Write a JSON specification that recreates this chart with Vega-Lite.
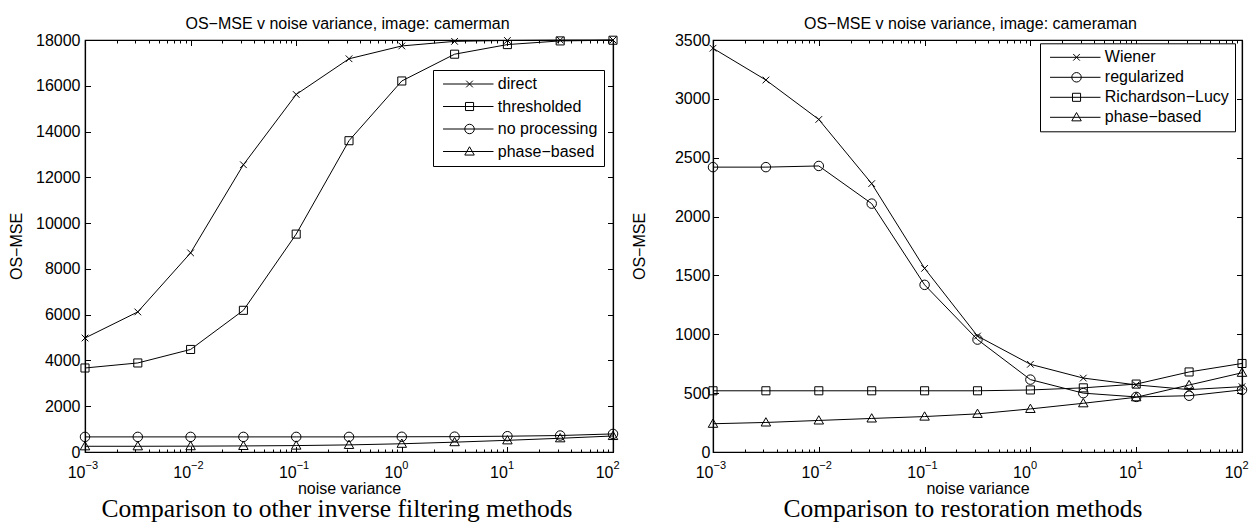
{
  "$schema": "https://vega.github.io/schema/vega-lite/v6.json",
  "padding": {"left": 7, "top": 14, "right": 0, "bottom": 0},
  "background": "white",
  "datasets": {
    "left": [
      {"v": 0.001, "s": "direct", "mse": 4980}, {"v": 0.0031623, "s": "direct", "mse": 6120}, {"v": 0.01, "s": "direct", "mse": 8700}, {"v": 0.031623, "s": "direct", "mse": 12550}, {"v": 0.1, "s": "direct", "mse": 15620}, {"v": 0.31623, "s": "direct", "mse": 17180}, {"v": 1, "s": "direct", "mse": 17740}, {"v": 3.1623, "s": "direct", "mse": 17940}, {"v": 10, "s": "direct", "mse": 17980}, {"v": 31.623, "s": "direct", "mse": 17995}, {"v": 100, "s": "direct", "mse": 18000},
      {"v": 0.001, "s": "thresholded", "mse": 3670}, {"v": 0.0031623, "s": "thresholded", "mse": 3890}, {"v": 0.01, "s": "thresholded", "mse": 4480}, {"v": 0.031623, "s": "thresholded", "mse": 6190}, {"v": 0.1, "s": "thresholded", "mse": 9520}, {"v": 0.31623, "s": "thresholded", "mse": 13600}, {"v": 1, "s": "thresholded", "mse": 16210}, {"v": 3.1623, "s": "thresholded", "mse": 17380}, {"v": 10, "s": "thresholded", "mse": 17800}, {"v": 31.623, "s": "thresholded", "mse": 17960}, {"v": 100, "s": "thresholded", "mse": 17990},
      {"v": 0.001, "s": "no processing", "mse": 660}, {"v": 0.0031623, "s": "no processing", "mse": 660}, {"v": 0.01, "s": "no processing", "mse": 660}, {"v": 0.031623, "s": "no processing", "mse": 660}, {"v": 0.1, "s": "no processing", "mse": 660}, {"v": 0.31623, "s": "no processing", "mse": 660}, {"v": 1, "s": "no processing", "mse": 665}, {"v": 3.1623, "s": "no processing", "mse": 670}, {"v": 10, "s": "no processing", "mse": 690}, {"v": 31.623, "s": "no processing", "mse": 720}, {"v": 100, "s": "no processing", "mse": 790},
      {"v": 0.001, "s": "phase−based", "mse": 250}, {"v": 0.0031623, "s": "phase−based", "mse": 250}, {"v": 0.01, "s": "phase−based", "mse": 255}, {"v": 0.031623, "s": "phase−based", "mse": 265}, {"v": 0.1, "s": "phase−based", "mse": 280}, {"v": 0.31623, "s": "phase−based", "mse": 310}, {"v": 1, "s": "phase−based", "mse": 360}, {"v": 3.1623, "s": "phase−based", "mse": 430}, {"v": 10, "s": "phase−based", "mse": 510}, {"v": 31.623, "s": "phase−based", "mse": 600}, {"v": 100, "s": "phase−based", "mse": 700}
    ],
    "right": [
      {"v": 0.001, "s": "Wiener", "mse": 3430}, {"v": 0.0031623, "s": "Wiener", "mse": 3160}, {"v": 0.01, "s": "Wiener", "mse": 2825}, {"v": 0.031623, "s": "Wiener", "mse": 2280}, {"v": 0.1, "s": "Wiener", "mse": 1560}, {"v": 0.31623, "s": "Wiener", "mse": 985}, {"v": 1, "s": "Wiener", "mse": 745}, {"v": 3.1623, "s": "Wiener", "mse": 628}, {"v": 10, "s": "Wiener", "mse": 570}, {"v": 31.623, "s": "Wiener", "mse": 530}, {"v": 100, "s": "Wiener", "mse": 555},
      {"v": 0.001, "s": "regularized", "mse": 2420}, {"v": 0.0031623, "s": "regularized", "mse": 2420}, {"v": 0.01, "s": "regularized", "mse": 2430}, {"v": 0.031623, "s": "regularized", "mse": 2110}, {"v": 0.1, "s": "regularized", "mse": 1420}, {"v": 0.31623, "s": "regularized", "mse": 955}, {"v": 1, "s": "regularized", "mse": 615}, {"v": 3.1623, "s": "regularized", "mse": 500}, {"v": 10, "s": "regularized", "mse": 468}, {"v": 31.623, "s": "regularized", "mse": 478}, {"v": 100, "s": "regularized", "mse": 528},
      {"v": 0.001, "s": "Richardson−Lucy", "mse": 520}, {"v": 0.0031623, "s": "Richardson−Lucy", "mse": 520}, {"v": 0.01, "s": "Richardson−Lucy", "mse": 520}, {"v": 0.031623, "s": "Richardson−Lucy", "mse": 520}, {"v": 0.1, "s": "Richardson−Lucy", "mse": 520}, {"v": 0.31623, "s": "Richardson−Lucy", "mse": 520}, {"v": 1, "s": "Richardson−Lucy", "mse": 527}, {"v": 3.1623, "s": "Richardson−Lucy", "mse": 545}, {"v": 10, "s": "Richardson−Lucy", "mse": 577}, {"v": 31.623, "s": "Richardson−Lucy", "mse": 680}, {"v": 100, "s": "Richardson−Lucy", "mse": 752},
      {"v": 0.001, "s": "phase−based", "mse": 240}, {"v": 0.0031623, "s": "phase−based", "mse": 251}, {"v": 0.01, "s": "phase−based", "mse": 268}, {"v": 0.031623, "s": "phase−based", "mse": 285}, {"v": 0.1, "s": "phase−based", "mse": 301}, {"v": 0.31623, "s": "phase−based", "mse": 324}, {"v": 1, "s": "phase−based", "mse": 366}, {"v": 3.1623, "s": "phase−based", "mse": 414}, {"v": 10, "s": "phase−based", "mse": 465}, {"v": 31.623, "s": "phase−based", "mse": 569}, {"v": 100, "s": "phase−based", "mse": 673}
    ]
  },
  "config": {
    "view": {"stroke": "black", "strokeWidth": 1.2},
    "axis": {"grid": false, "domainColor": "black", "domainWidth": 1.2, "tickColor": "black", "tickWidth": 1, "labelColor": "black", "titleColor": "black", "labelFont": "Liberation Sans", "titleFont": "Liberation Sans", "labelFontSize": 16, "titleFontSize": 16, "titleFontWeight": "normal", "labelFlush": false, "labelOverlap": false},
    "legend": {"title": null, "orient": "none", "strokeColor": "black", "fillColor": "white", "padding": 6, "cornerRadius": 0, "labelFont": "Liberation Sans", "labelFontSize": 16, "labelColor": "black", "labelOffset": 42.8, "symbolSize": 90, "symbolStrokeColor": "black", "symbolFillColor": "transparent", "symbolStrokeWidth": 1, "symbolOpacity": 1, "labelLimit": 300}
  },
  "spacing": 9,
  "resolve": {"scale": {"shape": "independent"}, "legend": {"shape": "independent"}},
  "hconcat": [
    {
      "width": 528,
      "height": 412,
      "data": {"name": "left"},
      "title": {"text": "Comparison to other inverse filtering methods", "orient": "bottom", "font": "Liberation Serif", "fontSize": 25.5, "fontWeight": "normal", "color": "black", "frame": "group", "anchor": "middle", "dx": -12, "offset": 1, "baseline": "top"},
      "resolve": {"axis": {"x": "independent", "y": "independent"}, "scale": {"shape": "independent"}, "legend": {"shape": "independent"}},
      "layer": [
        {
          "mark": {"type": "line", "color": "black", "strokeWidth": 1},
          "encoding": {
            "x": {"field": "v", "type": "quantitative", "scale": {"type": "log", "domain": [0.001, 100], "nice": false},
              "axis": {"orient": "bottom", "values": [0.001, 0.01, 0.1, 1, 10, 100], "labelExpr": "'10'", "labelAlign": "right", "labelDx": 4, "tickSize": -5.5, "labelPadding": 17.5, "title": "noise variance", "titlePadding": 0}},
            "y": {"field": "mse", "type": "quantitative", "scale": {"domain": [0, 18000], "nice": false},
              "axis": {"orient": "left", "values": [0, 2000, 4000, 6000, 8000, 10000, 12000, 14000, 16000, 18000], "format": "d", "tickSize": -5.5, "labelPadding": 10.5, "title": "OS−MSE", "titlePadding": 11}},
            "detail": {"field": "s", "type": "nominal"}
          }
        },
        {
          "mark": {"type": "point", "filled": false, "color": "black", "strokeWidth": 1, "size": 90, "opacity": 1},
          "encoding": {
            "x": {"field": "v", "type": "quantitative",
              "axis": {"orient": "top", "values": [0.001, 0.01, 0.1, 1, 10, 100], "labels": false, "tickSize": -5.5, "title": "OS−MSE v noise variance, image: camerman", "titlePadding": 8.5, "titleX": 262, "titleAlign": "center"}},
            "y": {"field": "mse", "type": "quantitative",
              "axis": {"orient": "right", "values": [0, 2000, 4000, 6000, 8000, 10000, 12000, 14000, 16000, 18000], "labels": false, "tickSize": -5.5, "title": null}},
            "shape": {"field": "s", "type": "nominal",
              "scale": {"domain": ["direct", "thresholded", "no processing", "phase−based"], "range": ["M-0.7,-0.7L0.7,0.7M-0.7,0.7L0.7,-0.7", "M-0.85,-0.85H0.85V0.85H-0.85Z", "circle", "M0,-1L1,0.75H-1Z"]},
              "legend": null}
          }
        },
        {
          "transform": [{"filter": "false"}],
          "mark": {"type": "point", "filled": false, "color": "black", "strokeWidth": 1, "size": 90, "opacity": 1},
          "encoding": {
            "shape": {"field": "s", "type": "nominal",
              "scale": {"domain": ["direct", "thresholded", "no processing", "phase−based"], "range": ["M-0.84,0H9.8M4.05,-0.7L5.45,0.7M4.05,0.7L5.45,-0.7", "M-0.84,0H9.8M3.9,-0.85H5.6V0.85H3.9Z", "M-0.84,0H9.8M5.75,0A1,1 0 1,1 3.75,0A1,1 0 1,1 5.75,0", "M-0.84,0H9.8M4.75,-1L5.75,0.75H3.75Z"]},
              "legend": {"legendX": 348, "legendY": 30, "rowPadding": 6.5}}
          }
        },
        {
          "mark": {"type": "point", "opacity": 0},
          "encoding": {
            "x": {"field": "v", "type": "quantitative", "axis": {"orient": "bottom", "values": [0.002, 0.003, 0.004, 0.005, 0.006, 0.007, 0.008, 0.009, 0.02, 0.03, 0.04, 0.05, 0.06, 0.07, 0.08, 0.09, 0.2, 0.3, 0.4, 0.5, 0.6, 0.7, 0.8, 0.9, 2, 3, 4, 5, 6, 7, 8, 9, 20, 30, 40, 50, 60, 70, 80, 90], "labels": false, "tickSize": -3, "domain": false, "title": null}},
            "y": {"field": "mse", "type": "quantitative", "axis": null}
          }
        },
        {
          "mark": {"type": "point", "opacity": 0},
          "encoding": {
            "x": {"field": "v", "type": "quantitative", "axis": {"orient": "top", "values": [0.002, 0.003, 0.004, 0.005, 0.006, 0.007, 0.008, 0.009, 0.02, 0.03, 0.04, 0.05, 0.06, 0.07, 0.08, 0.09, 0.2, 0.3, 0.4, 0.5, 0.6, 0.7, 0.8, 0.9, 2, 3, 4, 5, 6, 7, 8, 9, 20, 30, 40, 50, 60, 70, 80, 90], "labels": false, "tickSize": -3, "domain": false, "title": null}},
            "y": {"field": "mse", "type": "quantitative", "axis": null}
          }
        },
        {
          "mark": {"type": "point", "opacity": 0},
          "encoding": {
            "x": {"field": "v", "type": "quantitative", "axis": {"orient": "bottom", "values": [0.001, 0.01, 0.1, 1, 10, 100], "labelExpr": "datum.value < 0.005 ? '−3' : datum.value < 0.05 ? '−2' : datum.value < 0.5 ? '−1' : datum.value < 5 ? '0' : datum.value < 50 ? '1' : '2'", "ticks": false, "tickSize": 0, "domain": false, "labelAlign": "left", "labelDx": 4.5, "labelFontSize": 11, "labelPadding": 7.3, "title": null}},
            "y": {"field": "mse", "type": "quantitative", "axis": null}
          }
        }
      ]
    },
    {
      "width": 529,
      "height": 412,
      "data": {"name": "right"},
      "title": {"text": "Comparison to restoration methods", "orient": "bottom", "font": "Liberation Serif", "fontSize": 25.5, "fontWeight": "normal", "color": "black", "frame": "group", "anchor": "middle", "dx": -14.5, "offset": 1, "baseline": "top"},
      "resolve": {"axis": {"x": "independent", "y": "independent"}, "scale": {"shape": "independent"}, "legend": {"shape": "independent"}},
      "layer": [
        {
          "mark": {"type": "line", "color": "black", "strokeWidth": 1},
          "encoding": {
            "x": {"field": "v", "type": "quantitative", "scale": {"type": "log", "domain": [0.001, 100], "nice": false},
              "axis": {"orient": "bottom", "values": [0.001, 0.01, 0.1, 1, 10, 100], "labelExpr": "'10'", "labelAlign": "right", "labelDx": 4, "tickSize": -5.5, "labelPadding": 17.5, "title": "noise variance", "titlePadding": 0}},
            "y": {"field": "mse", "type": "quantitative", "scale": {"domain": [0, 3500], "nice": false},
              "axis": {"orient": "left", "values": [0, 500, 1000, 1500, 2000, 2500, 3000, 3500], "format": "d", "tickSize": -5.5, "labelPadding": 8.5, "title": "OS−MSE", "titlePadding": 27}},
            "detail": {"field": "s", "type": "nominal"}
          }
        },
        {
          "mark": {"type": "point", "filled": false, "color": "black", "strokeWidth": 1, "size": 90, "opacity": 1},
          "encoding": {
            "x": {"field": "v", "type": "quantitative",
              "axis": {"orient": "top", "values": [0.001, 0.01, 0.1, 1, 10, 100], "labels": false, "tickSize": -5.5, "title": "OS−MSE v noise variance, image: cameraman", "titlePadding": 8.5, "titleX": 257, "titleAlign": "center"}},
            "y": {"field": "mse", "type": "quantitative",
              "axis": {"orient": "right", "values": [0, 500, 1000, 1500, 2000, 2500, 3000, 3500], "labels": false, "tickSize": -5.5, "title": null}},
            "shape": {"field": "s", "type": "nominal",
              "scale": {"domain": ["Wiener", "regularized", "Richardson−Lucy", "phase−based"], "range": ["M-0.7,-0.7L0.7,0.7M-0.7,0.7L0.7,-0.7", "circle", "M-0.85,-0.85H0.85V0.85H-0.85Z", "M0,-1L1,0.75H-1Z"]},
              "legend": null}
          }
        },
        {
          "transform": [{"filter": "false"}],
          "mark": {"type": "point", "filled": false, "color": "black", "strokeWidth": 1, "size": 90, "opacity": 1},
          "encoding": {
            "shape": {"field": "s", "type": "nominal",
              "scale": {"domain": ["Wiener", "regularized", "Richardson−Lucy", "phase−based"], "range": ["M-0.84,0H9.8M4.05,-0.7L5.45,0.7M4.05,0.7L5.45,-0.7", "M-0.84,0H9.8M5.75,0A1,1 0 1,1 3.75,0A1,1 0 1,1 5.75,0", "M-0.84,0H9.8M3.9,-0.85H5.6V0.85H3.9Z", "M-0.84,0H9.8M4.75,-1L5.75,0.75H3.75Z"]},
              "legend": {"legendX": 327, "legendY": 3.3, "rowPadding": 4}}
          }
        },
        {
          "mark": {"type": "point", "opacity": 0},
          "encoding": {
            "x": {"field": "v", "type": "quantitative", "axis": {"orient": "bottom", "values": [0.002, 0.003, 0.004, 0.005, 0.006, 0.007, 0.008, 0.009, 0.02, 0.03, 0.04, 0.05, 0.06, 0.07, 0.08, 0.09, 0.2, 0.3, 0.4, 0.5, 0.6, 0.7, 0.8, 0.9, 2, 3, 4, 5, 6, 7, 8, 9, 20, 30, 40, 50, 60, 70, 80, 90], "labels": false, "tickSize": -3, "domain": false, "title": null}},
            "y": {"field": "mse", "type": "quantitative", "axis": null}
          }
        },
        {
          "mark": {"type": "point", "opacity": 0},
          "encoding": {
            "x": {"field": "v", "type": "quantitative", "axis": {"orient": "top", "values": [0.002, 0.003, 0.004, 0.005, 0.006, 0.007, 0.008, 0.009, 0.02, 0.03, 0.04, 0.05, 0.06, 0.07, 0.08, 0.09, 0.2, 0.3, 0.4, 0.5, 0.6, 0.7, 0.8, 0.9, 2, 3, 4, 5, 6, 7, 8, 9, 20, 30, 40, 50, 60, 70, 80, 90], "labels": false, "tickSize": -3, "domain": false, "title": null}},
            "y": {"field": "mse", "type": "quantitative", "axis": null}
          }
        },
        {
          "mark": {"type": "point", "opacity": 0},
          "encoding": {
            "x": {"field": "v", "type": "quantitative", "axis": {"orient": "bottom", "values": [0.001, 0.01, 0.1, 1, 10, 100], "labelExpr": "datum.value < 0.005 ? '−3' : datum.value < 0.05 ? '−2' : datum.value < 0.5 ? '−1' : datum.value < 5 ? '0' : datum.value < 50 ? '1' : '2'", "ticks": false, "tickSize": 0, "domain": false, "labelAlign": "left", "labelDx": 4.5, "labelFontSize": 11, "labelPadding": 7.3, "title": null}},
            "y": {"field": "mse", "type": "quantitative", "axis": null}
          }
        }
      ]
    }
  ]
}
